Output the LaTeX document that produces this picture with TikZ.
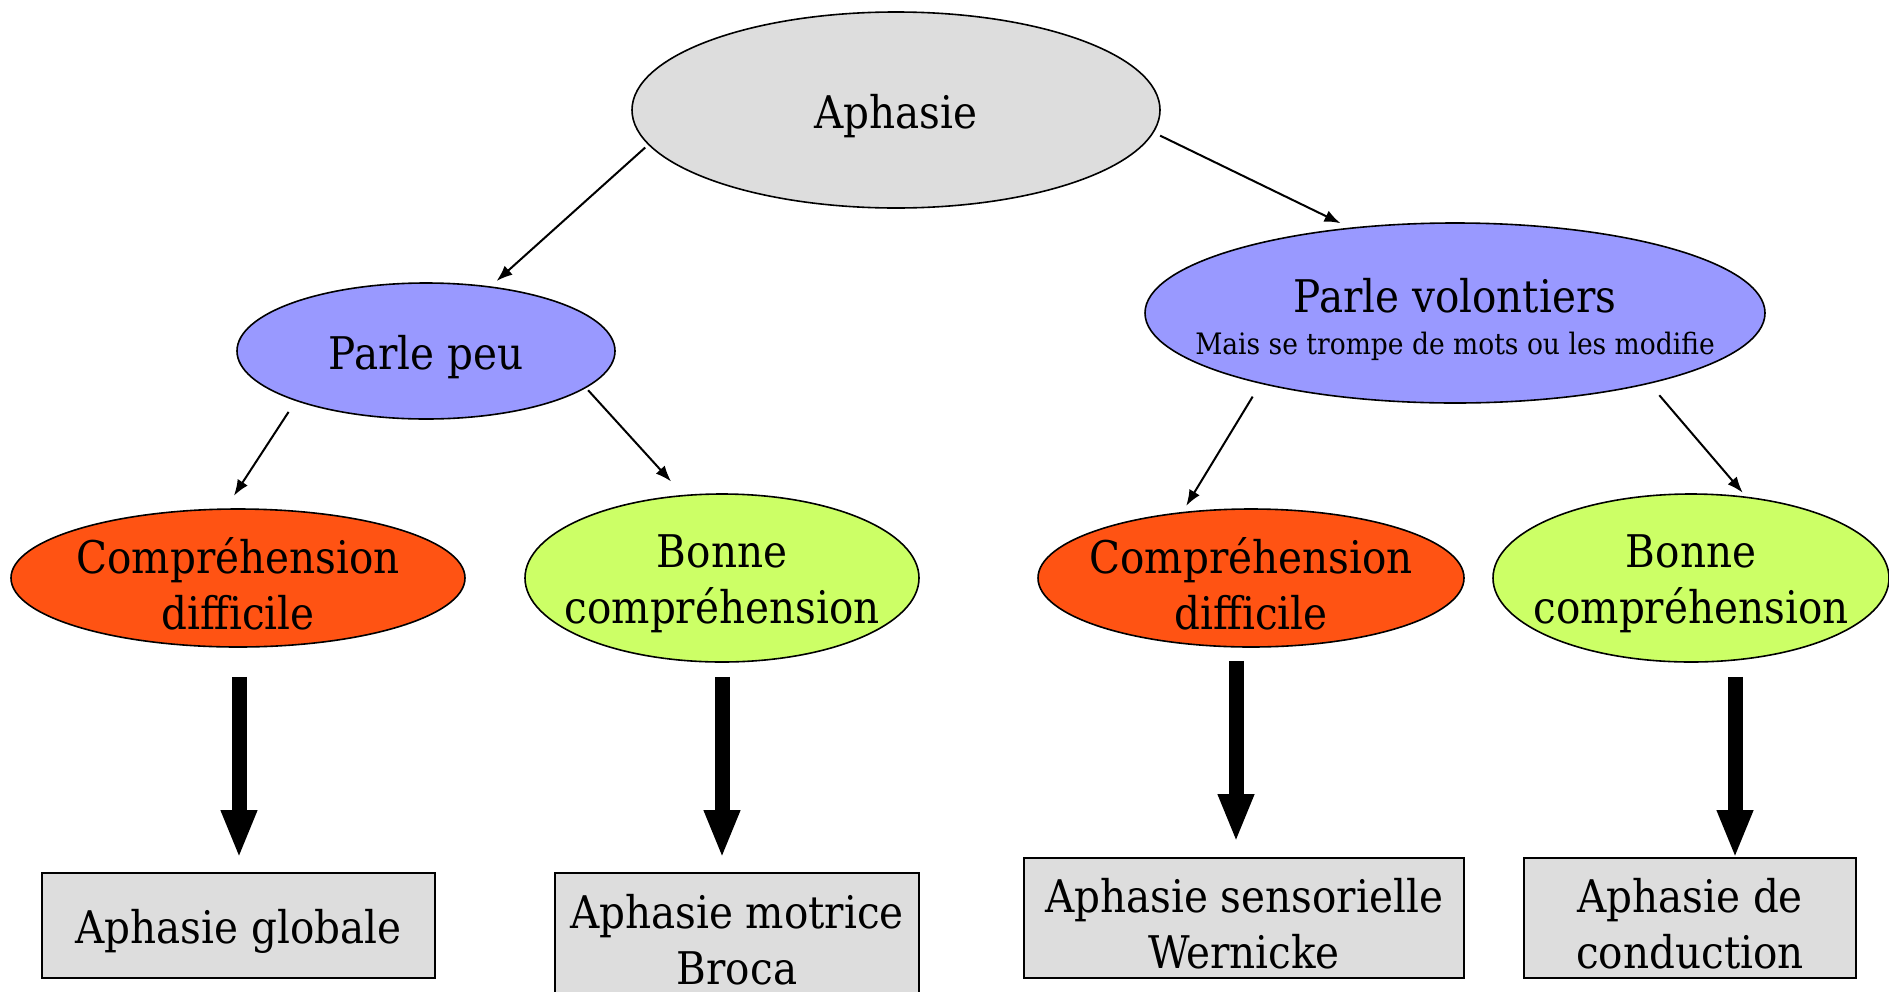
\documentclass[tikz,border=0pt]{standalone}
\usepackage{fontspec}
\setmainfont{DejaVu Serif Condensed}
\usetikzlibrary{shapes.geometric,arrows.meta,calc}
\definecolor{grayfill}{RGB}{221,221,221}
\definecolor{violetfill}{RGB}{153,153,255}
\definecolor{orangefill}{RGB}{255,83,19}
\definecolor{limefill}{RGB}{204,255,102}
\tikzset{
  ell/.style={ellipse, draw=black, line width=1.6pt, inner sep=0pt},
  txt/.style={align=center, inner sep=0pt, yshift=-6pt, font=\fontsize{45}{56}\selectfont},
  boxnode/.style={rectangle, draw=black, line width=1.6pt, fill=grayfill, inner sep=0pt},
  thin arrow/.style={line width=2pt, -{Latex[length=16pt,width=12pt]}},
  big arrow/.style={line width=15pt, -{Triangle[length=48pt,width=33pt]}},
}
\begin{document}
\begin{tikzpicture}[x=1pt,y=-1pt]
\useasboundingbox (0,0) rectangle (1889,991);
\clip (0,0) rectangle (1889,991);

% ellipses
\node[ell, fill=grayfill, minimum width=528, minimum height=196,
      label={[txt]center:Aphasie}] (aph) at (896,110) {};
\node[ell, fill=violetfill, minimum width=378, minimum height=136,
      label={[txt]center:Parle peu}] (pp) at (426,351) {};
\node[ell, fill=violetfill, minimum width=620, minimum height=180,
      label={[txt]center:Parle volontiers\\[-14pt]{\fontsize{29.5}{34}\selectfont Mais se trompe de mots ou les modifie}}] (pv) at (1455,313) {};
\node[ell, fill=orangefill, minimum width=454, minimum height=138,
      label={[txt]center:Compréhension\\difficile}] (cd1) at (238,578) {};
\node[ell, fill=limefill, minimum width=394, minimum height=168,
      label={[txt]center:Bonne\\compréhension}] (b1) at (722,578) {};
\node[ell, fill=orangefill, minimum width=426, minimum height=138,
      label={[txt]center:Compréhension\\difficile}] (cd2) at (1251,578) {};
\node[ell, fill=limefill, minimum width=396, minimum height=168,
      label={[txt]center:Bonne\\compréhension}] (b2) at (1691,578) {};

% boxes
\node[boxnode, minimum width=393, minimum height=105,
      label={[txt]center:Aphasie globale}] (gl) at (238.5,925.5) {};
\node[boxnode, minimum width=364, minimum height=122,
      label={[txt]center:Aphasie motrice\\Broca}] (broca) at (737,934) {};
\node[boxnode, minimum width=440, minimum height=120,
      label={[txt]center:Aphasie sensorielle\\Wernicke}] (wer) at (1244,918) {};
\node[boxnode, minimum width=332, minimum height=120,
      label={[txt]center:Aphasie de\\conduction}] (con) at (1690,918) {};

% thin arrows
\draw[thin arrow, shorten <=4pt, shorten >=8pt] (aph.188) -- (pp.45);
\draw[thin arrow, shorten <=7pt, shorten >=10pt] (aph.355) -- (pv.141);
\draw[thin arrow, shorten <=13pt, shorten >=15pt] (pp.201) -- (cd1.100);
\draw[thin arrow, shorten <=3pt, shorten >=18pt] (pp.347) -- (b1.115);
\draw[thin arrow, shorten <=15pt, shorten >=7pt] (pv.200) -- (cd2.136);
\draw[thin arrow, shorten <=15pt, shorten >=5pt] (pv.340) -- (b2.56);

% thick arrows
\draw[big arrow] ($(cd1.south)+(1,29)$) -- ($(cd1.south |- gl.north)+(1,-14)$);
\draw[big arrow] ($(b1.south)+(0,14)$) -- ($(b1.south |- broca.north)+(0,-14)$);
\draw[big arrow] ($(cd2.south)+(-15,13)$) -- ($(cd2.south |- wer.north)+(-15,-15)$);
\draw[big arrow] ($(b2.south)+(44,14)$) -- ($(b2.south |- con.north)+(44,1)$);
\end{tikzpicture}
\end{document}
